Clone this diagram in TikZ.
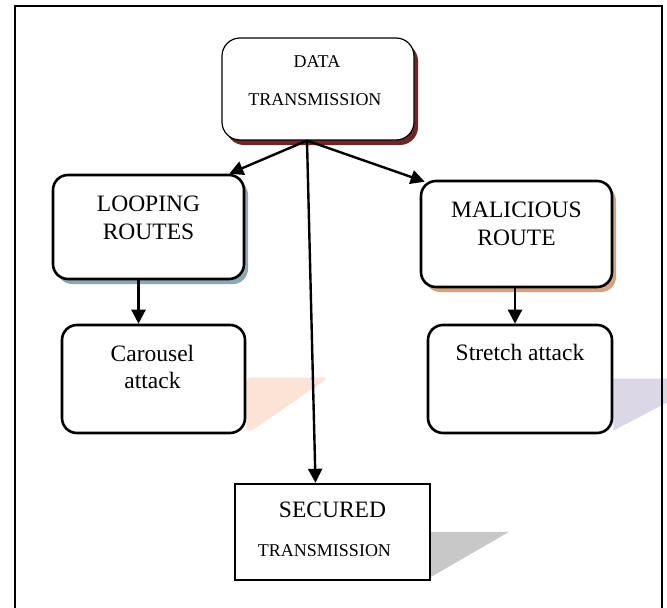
\documentclass[tikz,border=0pt]{standalone}
\usepackage{fontspec}
\setmainfont{Liberation Serif}
\usetikzlibrary{calc,shadows,arrows.meta,backgrounds}
\definecolor{darkred}{RGB}{110,38,38}
\definecolor{steelgrey}{RGB}{140,168,180}
\definecolor{tan}{RGB}{212,163,125}
\definecolor{peach}{RGB}{251,228,213}
\definecolor{lavender}{RGB}{220,215,230}
\definecolor{shadowgrey}{RGB}{200,200,200}
\tikzset{
  % Two box styles: rounded and square
  round box/.style={rectangle,draw,rounded corners=15pt,line width=2.6pt,fill=white},
  square box/.style={rectangle,draw,line width=2.4pt,fill=white},
  % Text in the boxes, placed on its baseline
  big text/.style={anchor=base,inner sep=0pt,font=\fontsize{23.5}{28}\selectfont},
  small text/.style={anchor=base,inner sep=0pt,font=\fontsize{18}{22}\selectfont},
  link/.style={line width=2.4pt,-{Triangle[length=14pt,width=14pt]}}
}

\begin{document}
\begin{tikzpicture}[x=1pt,y=-1pt]
  \useasboundingbox (0,0) rectangle (667,608);
  \clip (0,0) rectangle (667,608);
  % The boxes
  \node(data)[round box,line width=1.2pt,rounded corners=18pt,minimum width=192pt,minimum height=102pt,
    drop shadow={fill=darkred,opacity=1,shadow xshift=4pt,shadow yshift=-5pt}] at (318,89){};
  \node(looping)[round box,minimum width=191pt,minimum height=104pt,
    drop shadow={fill=steelgrey,opacity=1,shadow xshift=4pt,shadow yshift=-5pt}] at (148.5,227){};
  \node(malicious)[round box,minimum width=191pt,minimum height=106pt,
    drop shadow={fill=tan,opacity=1,shadow xshift=4pt,shadow yshift=-5pt}] at (516.5,234){};
  \node(carousel)[round box,minimum width=183pt,minimum height=108pt] at (153.5,379){};
  \node(stretch)[round box,minimum width=184pt,minimum height=108pt] at (520,379){};
  \node(secured)[square box,minimum width=195pt,minimum height=96pt] at (332.5,532){};
  % perspective shadows behind the lower boxes
  \begin{scope}[on background layer]
    \fill[peach,rounded corners=4pt] ($(carousel.north east)+(0,54)$) -- ($(carousel.north east)+(82,54)$)
      -- ($(carousel.north east)+(7,106)$) -- ($(carousel.north east)+(0,108)$) -- cycle;
    \fill[lavender] ($(stretch.north east)+(0,55)$) -- ($(stretch.north east)+(99,55)$)
      -- ($(stretch.north east)+(0,107)$) -- cycle;
    \fill[shadowgrey] ($(secured.north east)+(0,49)$) -- ($(secured.north east)+(78,49)$)
      -- ($(secured.north east)+(0,94)$) -- cycle;
  \end{scope}
  % The texts
  \node(data1)[small text] at ($(data.north)+(-1,30)$){DATA};
  \node(data2)[small text] at ($(data.north)+(-3,68)$){TRANSMISSION};
  \node(looping1)[big text] at ($(looping.north)+(0,38)$){LOOPING};
  \node(looping2)[big text] at ($(looping.north)+(0,66)$){ROUTES};
  \node(malicious1)[big text] at ($(malicious.north)+(0,38)$){MALICIOUS};
  \node(malicious2)[big text] at ($(malicious.north)+(0,66)$){ROUTE};
  \node(carousel1)[big text] at ($(carousel.north)+(-1,38)$){Carousel};
  \node(carousel2)[big text] at ($(carousel.north)+(-1,65)$){attack};
  \node(stretch1)[big text] at ($(stretch.north)+(0,37)$){Stretch attack};
  \node(secured1)[big text] at ($(secured.north)+(0,35)$){SECURED};
  \node(secured2)[small text] at ($(secured.north)+(-8,74)$){TRANSMISSION};
  % The links
  \coordinate(src) at ([xshift=-11pt]data.south);
  \draw[link] (src) -- ([xshift=-16pt]looping.north east);
  \draw[link] (src) -- ([xshift=5pt,yshift=-2pt]malicious.north west);
  \draw[link] (src) -- ([xshift=-17pt]secured.north);
  \draw[link] ([xshift=-10pt]looping.south) -- ([xshift=-15pt]carousel.north);
  \draw[link] ([xshift=-1.5pt]malicious.south) -- ([xshift=-5pt]stretch.north);
  % outer frame
  \draw[line width=2.4pt] (15,6) rectangle (662,625);
\end{tikzpicture}
\end{document}
